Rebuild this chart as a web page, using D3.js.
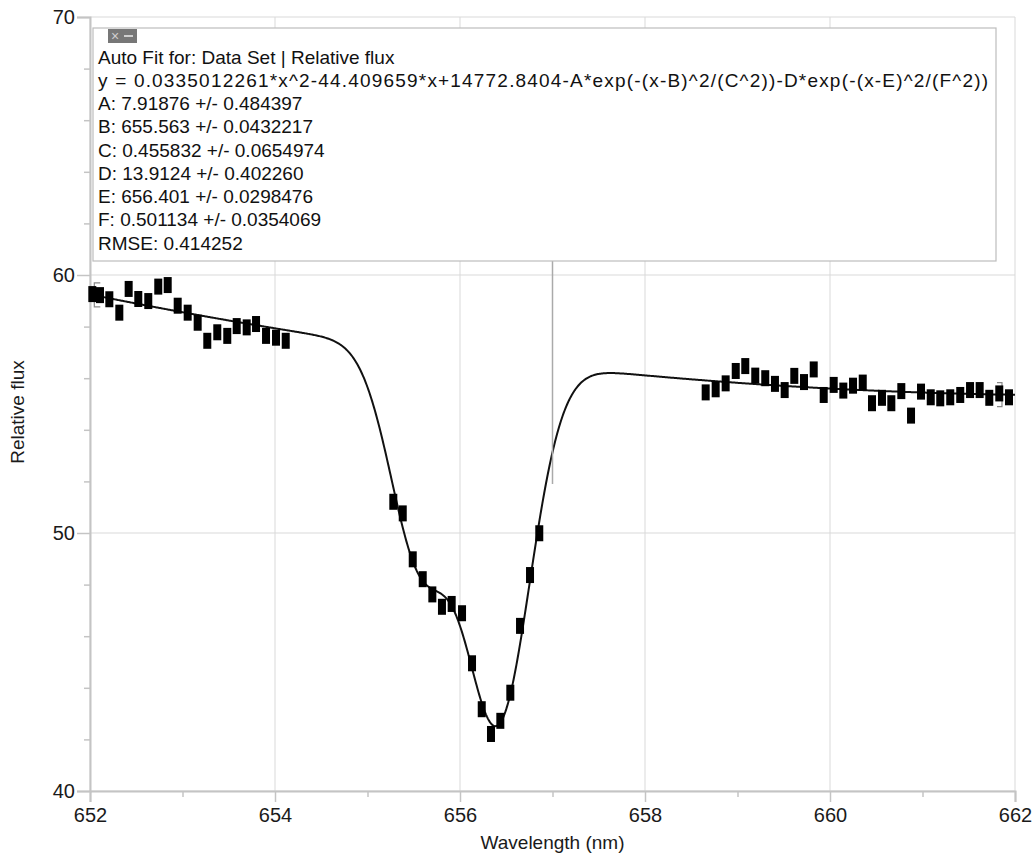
<!DOCTYPE html>
<html>
<head>
<meta charset="utf-8">
<script src="https://cdn.jsdelivr.net/npm/d3@7/dist/d3.min.js"></script>
<style>
  html, body { margin: 0; padding: 0; background: #fff; }
  svg { display: block; font-family: "Liberation Sans", Arial, sans-serif; }
</style>
</head>
<body>
<svg id="chart" width="1034" height="857"></svg>
<script>
// ---- Data ----
const wavelength = [
  652.025, 652.108, 652.209, 652.317, 652.418, 652.522, 652.630, 652.738, 652.840, 652.948,
  653.056, 653.164, 653.268, 653.376, 653.484, 653.586, 653.694, 653.795, 653.903, 654.011, 654.116,
  655.279, 655.381, 655.489, 655.597, 655.701, 655.805, 655.910, 656.022, 656.130, 656.235,
  656.335, 656.436, 656.544, 656.649, 656.757, 656.857,
  658.656, 658.764, 658.872, 658.981, 659.084, 659.192, 659.300, 659.405, 659.510, 659.614,
  659.719, 659.824, 659.932, 660.040, 660.144, 660.249, 660.354, 660.454, 660.562, 660.663,
  660.771, 660.876, 660.984, 661.089, 661.192, 661.300, 661.408, 661.514, 661.618, 661.722,
  661.830, 661.935
];
const flux = [
  59.26, 59.22, 59.06, 58.54, 59.46, 59.07, 58.99, 59.55, 59.61, 58.81,
  58.54, 58.15, 57.45, 57.78, 57.64, 58.02, 57.97, 58.10, 57.64, 57.57, 57.45,
  51.21, 50.76, 48.98, 48.21, 47.62, 47.14, 47.25, 46.89, 44.95, 43.17,
  42.21, 42.72, 43.81, 46.40, 48.37, 49.99,
  55.45, 55.57, 55.80, 56.28, 56.47, 56.10, 56.00, 55.78, 55.54, 56.09,
  55.85, 56.34, 55.35, 55.74, 55.52, 55.71, 55.83, 55.03, 55.24, 55.03,
  55.50, 54.55, 55.48, 55.26, 55.22, 55.26, 55.35, 55.54, 55.54, 55.24,
  55.41, 55.26
];

// Fit parameters shown in the chart's annotation
const quad = [0.0335012261, -44.409659, 14772.8404];
const fitA = 7.91876, fitB = 655.563, fitC = 0.455832;
const fitD = 13.9124, fitE = 656.401, fitF = 0.501134;

const xTicks = [652, 654, 656, 658, 660, 662];
const xMinorTicks = [653, 655, 657, 659, 661];
const yTicks = [40, 50, 60, 70];
const yMinorTicks = [42, 44, 46, 48, 52, 54, 56, 58, 62, 64, 66, 68];

const annotationLines = [
  "Auto Fit for: Data Set | Relative flux",
  "y = 0.0335012261*x^2-44.409659*x+14772.8404-A*exp(-(x-B)^2/(C^2))-D*exp(-(x-E)^2/(F^2))",
  "A: 7.91876 +/- 0.484397",
  "B: 655.563 +/- 0.0432217",
  "C: 0.455832 +/- 0.0654974",
  "D: 13.9124 +/- 0.402260",
  "E: 656.401 +/- 0.0298476",
  "F: 0.501134 +/- 0.0354069",
  "RMSE: 0.414252"
];
const connectorX = 657.0, connectorBottom = 51.9;

// ---- Chart ----
const svg = d3.select("#chart");
const x = d3.scaleLinear().domain([652, 662]).range([90, 1015]);
const y = d3.scaleLinear().domain([40, 70]).range([791, 17]);

const gridColor = "#d9d9d9";
const axisColor = "#c4c4c4";

// gridlines
svg.append("g").selectAll("line.vg").data(xTicks).join("line")
  .attr("x1", d => x(d)).attr("x2", d => x(d))
  .attr("y1", y(70)).attr("y2", y(40))
  .attr("stroke", gridColor).attr("stroke-width", 1);
svg.append("g").selectAll("line.hg").data(yTicks).join("line")
  .attr("x1", x(652)).attr("x2", x(662))
  .attr("y1", d => y(d)).attr("y2", d => y(d))
  .attr("stroke", gridColor).attr("stroke-width", 1);

// x axis
const gx = svg.append("g").attr("transform", `translate(0,${y(40)})`)
  .call(d3.axisBottom(x).tickValues(xTicks).tickSize(11).tickPadding(6).tickFormat(d3.format("d")));
gx.select(".domain").attr("stroke", axisColor).attr("stroke-width", 2);
gx.selectAll(".tick line").attr("stroke", axisColor).attr("stroke-width", 1.5);
gx.selectAll(".tick text").attr("fill", "#1a1a1a").style("font-size", "20px")
  .style("font-family", "'Liberation Sans', Arial, sans-serif");
svg.append("g").attr("transform", `translate(0,${y(40)})`)
  .call(d3.axisBottom(x).tickValues(xMinorTicks).tickSize(6).tickFormat(""))
  .call(g => g.select(".domain").remove())
  .call(g => g.selectAll(".tick line").attr("stroke", axisColor).attr("stroke-width", 1.5));

// y axis
const gy = svg.append("g").attr("transform", `translate(${x(652)},0)`)
  .call(d3.axisLeft(y).tickValues(yTicks).tickSize(13).tickPadding(2).tickFormat(d3.format("d")));
gy.select(".domain").attr("stroke", axisColor).attr("stroke-width", 2);
gy.selectAll(".tick line").attr("stroke", axisColor).attr("stroke-width", 1.5);
gy.selectAll(".tick text").attr("fill", "#1a1a1a").style("font-size", "20px")
  .style("font-family", "'Liberation Sans', Arial, sans-serif");
svg.append("g").attr("transform", `translate(${x(652)},0)`)
  .call(d3.axisLeft(y).tickValues(yMinorTicks).tickSize(6).tickFormat(""))
  .call(g => g.select(".domain").remove())
  .call(g => g.selectAll(".tick line").attr("stroke", axisColor).attr("stroke-width", 1.5));

// axis titles
svg.append("text").attr("x", (x(652) + x(662)) / 2).attr("y", 849)
  .attr("text-anchor", "middle").attr("fill", "#1a1a1a").style("font-size", "19px")
  .text("Wavelength (nm)");
svg.append("text").attr("transform", `translate(24,${(y(40) + y(70)) / 2 + 8}) rotate(-90)`)
  .attr("text-anchor", "middle").attr("fill", "#1a1a1a").style("font-size", "19px")
  .text("Relative flux");

// fit curve
const fitFn = w => quad[0] * w * w + quad[1] * w + quad[2]
  - fitA * Math.exp(-((w - fitB) ** 2) / (fitC ** 2))
  - fitD * Math.exp(-((w - fitE) ** 2) / (fitF ** 2));
const fitX = d3.range(652, 662.0001, 0.01);
svg.append("path").datum(fitX)
  .attr("fill", "none").attr("stroke", "#111").attr("stroke-width", 2)
  .attr("d", d3.line().x(d => x(d)).y(d => y(fitFn(d))));

// range brackets at first / last points
const w0 = wavelength[0], w1 = wavelength[wavelength.length - 1];
const bY0 = y(fitFn(w0)), bY1 = y(fitFn(w1));
svg.append("path").attr("fill", "none").attr("stroke", "#888").attr("stroke-width", 1.2)
  .attr("d", `M${x(w0) + 8},${bY0 - 12} H${x(w0) + 2} V${bY0 + 12} H${x(w0) + 8}`);
svg.append("path").attr("fill", "none").attr("stroke", "#888").attr("stroke-width", 1.2)
  .attr("d", `M${x(w1) - 12},${bY1 - 12} H${x(w1) - 7} V${bY1 + 12} H${x(w1) - 12}`);

// data markers
svg.append("g").selectAll("rect").data(wavelength).join("rect")
  .attr("x", d => x(d) - 4).attr("width", 8)
  .attr("y", (d, i) => y(flux[i]) - 8).attr("height", 16)
  .attr("fill", "#000");

// annotation box
const boxL = 93, boxT = 28, boxR = 996, boxB = 261;
svg.append("line").attr("x1", x(connectorX)).attr("x2", x(connectorX))
  .attr("y1", boxB).attr("y2", y(connectorBottom))
  .attr("stroke", "#aaa").attr("stroke-width", 1.5);
svg.append("rect").attr("x", boxL).attr("y", boxT).attr("width", boxR - boxL).attr("height", boxB - boxT)
  .attr("fill", "#fff").attr("stroke", "#bdbdbd").attr("stroke-width", 1.2);
// small icon
svg.append("rect").attr("x", 108).attr("y", 29).attr("width", 29).attr("height", 14).attr("fill", "#777");
svg.append("text").attr("x", 115).attr("y", 41).attr("text-anchor", "middle")
  .attr("fill", "#cfcfcf").style("font-size", "14px").text("×");
svg.append("rect").attr("x", 124).attr("y", 35).attr("width", 9).attr("height", 2).attr("fill", "#cfcfcf");

svg.append("g").selectAll("text").data(annotationLines).join("text")
  .attr("x", 98).attr("y", (d, i) => 63.5 + i * 23.25)
  .attr("fill", "#111").style("font-size", "19px")
  .each(function (d, i) {
    if (i === 1) d3.select(this).attr("textLength", 890).attr("lengthAdjust", "spacing");
  })
  .text(d => d);
</script>
</body>
</html>
